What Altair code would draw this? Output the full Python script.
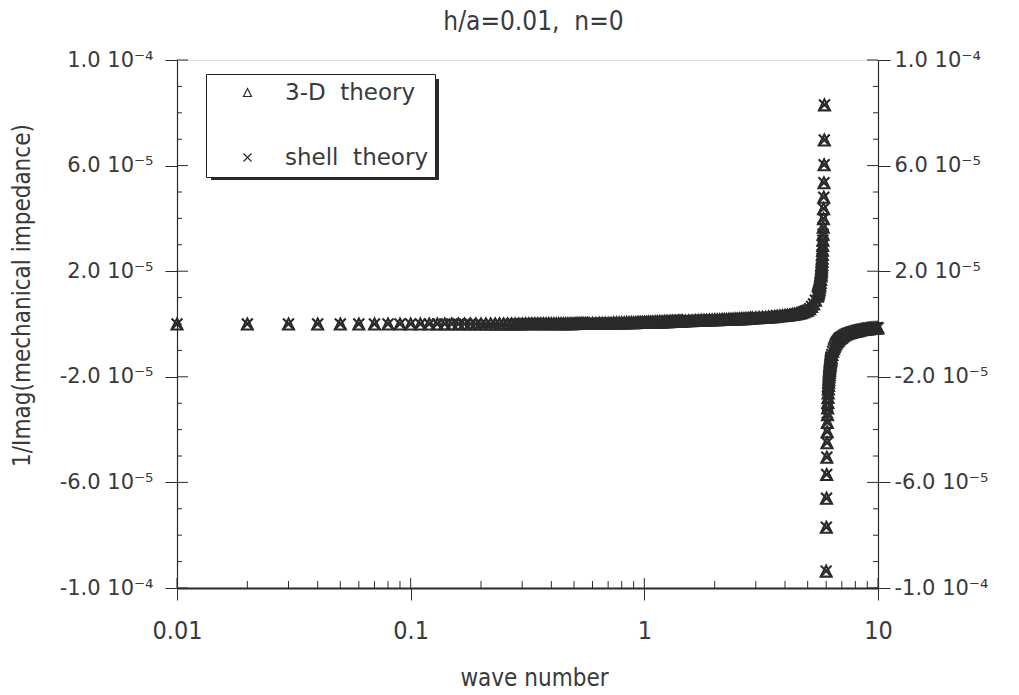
import altair as alt
import pandas as pd

INK = "#2b2b2b"
TEXT = "#3a3a3a"
NARROW = "DejaVu Sans Condensed, Liberation Sans Narrow, DejaVu Sans, sans-serif"
WIDE = "DejaVu Sans, Verdana, sans-serif"

W, H = 701, 528

SERIES = ["3-D theory", "shell theory"]

# Branch below the resonance: wave number and 1/Imag(Z) in units of 1e-5
k_a = [0.01, 0.02, 0.03, 0.04, 0.05, 0.06, 0.07, 0.08, 0.09, 0.10,
       0.11, 0.12, 0.13, 0.14, 0.15, 0.16, 0.17, 0.18, 0.19, 0.20,
       0.21, 0.22, 0.23, 0.24, 0.25, 0.26, 0.27, 0.28, 0.29, 0.30,
       0.31, 0.32, 0.33, 0.34, 0.35, 0.36, 0.37, 0.38, 0.39, 0.40,
       0.41, 0.42, 0.43, 0.44, 0.45, 0.46, 0.47, 0.48, 0.49, 0.50,
       0.51, 0.52, 0.53, 0.54, 0.55, 0.56, 0.57, 0.58]
v_a = [0.00, 0.00, 0.00, 0.00, 0.00, 0.00, 0.00, 0.00, 0.00, 0.00,
       0.00, 0.00, 0.00, 0.00, 0.00, 0.00, 0.00, 0.00, 0.00, 0.00,
       0.00, 0.00, 0.00, 0.00, 0.00, 0.00, 0.00, 0.00, 0.00, 0.00,
       0.01, 0.01, 0.01, 0.01, 0.01, 0.01, 0.01, 0.01, 0.01, 0.01,
       0.01, 0.01, 0.01, 0.01, 0.01, 0.01, 0.01, 0.01, 0.01, 0.01,
       0.02, 0.02, 0.02, 0.02, 0.02, 0.02, 0.02, 0.02]

k_b = [0.60, 0.62, 0.64, 0.66, 0.68, 0.70, 0.72, 0.74, 0.76, 0.78,
       0.80, 0.82, 0.84, 0.86, 0.88, 0.90, 0.92, 0.94, 0.96, 0.98,
       1.00, 1.02, 1.04, 1.06, 1.08, 1.10, 1.12, 1.14, 1.16, 1.18,
       1.20, 1.22, 1.24, 1.26, 1.28, 1.30, 1.32, 1.34, 1.36, 1.38,
       1.40, 1.42, 1.44, 1.46]
v_b = [0.02, 0.02, 0.03, 0.03, 0.03, 0.03, 0.03, 0.04, 0.04, 0.04,
       0.04, 0.04, 0.05, 0.05, 0.05, 0.05, 0.05, 0.06, 0.06, 0.06,
       0.06, 0.06, 0.07, 0.07, 0.07, 0.07, 0.08, 0.08, 0.08, 0.08,
       0.08, 0.09, 0.09, 0.09, 0.09, 0.10, 0.10, 0.10, 0.10, 0.10,
       0.11, 0.11, 0.11, 0.11]

k_c = [1.50, 1.55, 1.60, 1.65, 1.70, 1.75, 1.80, 1.85, 1.90, 1.95,
       2.00, 2.05, 2.10, 2.15, 2.20, 2.25, 2.30, 2.35, 2.40, 2.45,
       2.50, 2.55, 2.60, 2.65, 2.70, 2.75, 2.80, 2.85, 2.90]
v_c = [0.11, 0.12, 0.12, 0.13, 0.13, 0.14, 0.14, 0.14, 0.15, 0.15,
       0.16, 0.16, 0.16, 0.17, 0.17, 0.17, 0.18, 0.18, 0.18, 0.19,
       0.19, 0.19, 0.20, 0.20, 0.20, 0.21, 0.21, 0.22, 0.22]

k_d = [3.0, 3.1, 3.2, 3.3, 3.4, 3.5, 3.6, 3.7, 3.8, 3.9,
       4.0, 4.1, 4.2, 4.3, 4.4, 4.5, 4.6, 4.7, 4.8, 4.9,
       5.0, 5.1, 5.2, 5.3, 5.4, 5.5]
v_d = [0.23, 0.24, 0.25, 0.25, 0.26, 0.27, 0.28, 0.29, 0.30, 0.31,
       0.32, 0.33, 0.34, 0.36, 0.37, 0.39, 0.41, 0.43, 0.46, 0.49,
       0.52, 0.58, 0.66, 0.76, 0.90, 1.05]

k_e = [5.52, 5.54, 5.56, 5.58, 5.60, 5.62, 5.64, 5.66, 5.68, 5.70]
v_e = [1.11, 1.15, 1.20, 1.26, 1.32, 1.40, 1.48, 1.57, 1.69, 1.82]

k_f = [5.71, 5.72, 5.73, 5.74, 5.75, 5.76, 5.77, 5.78, 5.79, 5.80,
       5.81, 5.82, 5.83, 5.84, 5.85, 5.86, 5.87, 5.88, 5.89, 5.90]
v_f = [1.89, 1.97, 2.05, 2.15, 2.25, 2.37, 2.49, 2.63, 2.79, 2.97,
       3.17, 3.40, 3.67, 3.99, 4.37, 4.80, 5.35, 6.03, 6.97, 8.30]

# Branch above the resonance
k_g = [6.00, 6.01, 6.02, 6.03, 6.04, 6.05, 6.06, 6.07, 6.08, 6.09,
       6.10, 6.11, 6.12, 6.13, 6.14, 6.15, 6.16, 6.17, 6.18, 6.19,
       6.20, 6.21, 6.22, 6.23, 6.24, 6.25, 6.26, 6.27, 6.28, 6.29, 6.30]
v_g = [-9.36, -7.70, -6.60, -5.70, -5.05, -4.50, -4.08, -3.73, -3.44, -3.18,
       -2.97, -2.78, -2.61, -2.46, -2.33, -2.21, -2.11, -2.01, -1.92, -1.84,
       -1.76, -1.69, -1.63, -1.57, -1.52, -1.47, -1.42, -1.37, -1.33, -1.29, -1.25]

k_h = [6.35, 6.40, 6.45, 6.50, 6.55, 6.60, 6.65, 6.70, 6.75, 6.80,
       6.85, 6.90, 6.95, 7.00]
v_h = [-1.15, -1.03, -0.94, -0.86, -0.79, -0.73, -0.68, -0.64, -0.61, -0.57,
       -0.54, -0.52, -0.50, -0.48]

k_i = [7.1, 7.2, 7.3, 7.4, 7.5, 7.6, 7.7, 7.8, 7.9, 8.0,
       8.1, 8.2, 8.3, 8.4, 8.5, 8.6, 8.7, 8.8, 8.9, 9.0,
       9.1, 9.2, 9.3, 9.4, 9.5, 9.6, 9.7, 9.8, 9.9, 10.0]
v_i = [-0.44, -0.41, -0.38, -0.36, -0.34, -0.32, -0.31, -0.29, -0.28, -0.27,
       -0.26, -0.25, -0.24, -0.23, -0.22, -0.21, -0.205, -0.20, -0.19, -0.185,
       -0.18, -0.175, -0.17, -0.165, -0.16, -0.16, -0.155, -0.15, -0.15, -0.145]

# Axis ticks
x_major = [0.01, 0.1, 1, 10]
x_major_labels = ["0.01", "0.1", "1", "10"]
x_minor = [0.02, 0.03, 0.04, 0.05, 0.06, 0.07, 0.08, 0.09,
           0.2, 0.3, 0.4, 0.5, 0.6, 0.7, 0.8, 0.9,
           2, 3, 4, 5, 6, 7, 8, 9]
y_major = [-10, -6, -2, 2, 6, 10]
y_major_labels = ["-1.0 10\u207b\u2074", "-6.0 10\u207b\u2075", "-2.0 10\u207b\u2075",
                  "2.0 10\u207b\u2075", "6.0 10\u207b\u2075", "1.0 10\u207b\u2074"]
y_minor = [-9, -8, -7, -5, -4, -3, -1, 0, 1, 3, 4, 5, 7, 8, 9]

k_all = k_a + k_b + k_c + k_d + k_e + k_f + k_g + k_h + k_i
v_all = v_a + v_b + v_c + v_d + v_e + v_f + v_g + v_h + v_i
df = pd.DataFrame([{"series": s, "k": k, "v": v}
                   for s in SERIES for k, v in zip(k_all, v_all)])


def label_expr(values, labels):
    parts = [f"datum.value == {v} ? '{t}'" for v, t in zip(values, labels)]
    return " : ".join(parts) + " : ''"


x_scale = alt.Scale(type="log", domain=[0.01, 10], nice=False)
y_scale = alt.Scale(domain=[-10, 10], nice=False, zero=False)

TRI = "M0,-1L1,1L-1,1Z"
CROSS = "M-1,-1L1,1M-1,1L1,-1"

y_axis_common = dict(
    values=y_major, labelExpr=label_expr(y_major, y_major_labels),
    tickSize=12, tickColor=INK, tickWidth=1, domainColor=INK, domainWidth=1.2,
    labelFont=WIDE, labelFontSize=21, labelColor=TEXT, labelFlush=False,
    labelOverlap=False, grid=False,
)

left_axis = alt.Axis(orient="left", labelPadding=12,
                     titleFont=NARROW, titleFontSize=24, titleColor=TEXT,
                     titleFontWeight="normal", titleAngle=270,
                     titleX=-155, titleY=235, titleAlign="center",
                     titleBaseline="middle", **y_axis_common)
right_axis = alt.Axis(orient="right", labelPadding=4, title=None, **y_axis_common)

x_axis = alt.Axis(values=x_major, labelExpr=label_expr(x_major, x_major_labels),
                  tickSize=12, tickColor=INK, tickWidth=1, domainColor=INK,
                  domainWidth=2, labelFont=NARROW, labelFontSize=25,
                  labelColor=TEXT, labelPadding=18, labelFlush=False,
                  labelOverlap=False, grid=False, title="wave number",
                  titleFont=NARROW, titleFontSize=24, titleColor=TEXT,
                  titleFontWeight="normal", titleX=357, titleY=97,
                  titleBaseline="alphabetic")

legend = alt.Legend(title=None, orient="none", legendX=29, legendY=14,
                    fillColor="white", strokeColor="#222222", padding=7,
                    symbolSize=64, symbolStrokeWidth=1.2, symbolStrokeColor=INK,
                    symbolFillColor="transparent", symbolOffset=23,
                    labelOffset=26, rowPadding=41, labelFont=WIDE,
                    labelFontSize=23, labelColor=TEXT, labelLimit=0,
                    labelExpr="replace(datum.label, ' ', '\u00a0\u00a0')")

points = alt.Chart(df).mark_point(filled=False, size=120, strokeWidth=2.1,
                                  opacity=1, clip=False).encode(
    x=alt.X("k:Q", scale=x_scale, axis=x_axis),
    y=alt.Y("v:Q", scale=y_scale, title="1/Imag(mechanical impedance)", axis=left_axis),
    shape=alt.Shape("series:N", scale=alt.Scale(domain=SERIES, range=[TRI, CROSS]),
                    legend=legend),
    color=alt.value("#2a2a2a"),
)

ym = pd.DataFrame({"v": y_major})
yn = pd.DataFrame({"v": y_minor})
xm = pd.DataFrame({"k": x_major})
xn = pd.DataFrame({"k": x_minor})

rule = dict(color=INK, strokeWidth=1)

right_ticks = alt.Chart(ym).mark_rule(**rule).encode(
    y=alt.Y("v:Q", scale=y_scale, axis=right_axis), x=alt.value(W), x2=alt.value(W - 11))
right_minor = alt.Chart(yn).mark_rule(**rule).encode(
    y=alt.Y("v:Q", scale=y_scale, axis=None), x=alt.value(W), x2=alt.value(W - 5))
left_major_in = alt.Chart(ym).mark_rule(**rule).encode(
    y=alt.Y("v:Q", scale=y_scale, axis=None), x=alt.value(0), x2=alt.value(11))
left_minor = alt.Chart(yn).mark_rule(**rule).encode(
    y=alt.Y("v:Q", scale=y_scale, axis=None), x=alt.value(0), x2=alt.value(5))
bottom_major_in = alt.Chart(xm).mark_rule(**rule).encode(
    x=alt.X("k:Q", scale=x_scale, axis=x_axis), y=alt.value(H), y2=alt.value(H - 10))
bottom_minor = alt.Chart(xn).mark_rule(**rule).encode(
    x=alt.X("k:Q", scale=x_scale, axis=x_axis), y=alt.value(H), y2=alt.value(H - 7))

# drop shadow behind the legend box
shadow = alt.Chart(pd.DataFrame({"s": [0]})).mark_rect(color="#2a2a2a").encode(
    x=alt.value(34), x2=alt.value(34 + 228), y=alt.value(19), y2=alt.value(19 + 101))

chart = alt.layer(
    shadow, left_major_in, left_minor, right_ticks, right_minor,
    bottom_major_in, bottom_minor, points,
).resolve_axis(y="independent").properties(
    width=W, height=H,
    padding={"left": 177, "top": 60, "right": 141, "bottom": 107},
    autosize=alt.AutoSizeParams(type="none"),
    title=alt.TitleParams(text="h/a=0.01,\u00a0\u00a0n=0", font=NARROW, fontSize=26,
                          fontWeight="normal", color=TEXT, anchor="middle",
                          frame="group", dx=6, dy=15, offset=8, baseline="alphabetic"),
).configure_view(stroke=INK, strokeWidth=1).configure(background="white")

chart.save("out.html", embed_options={"renderer": "svg", "actions": False})
